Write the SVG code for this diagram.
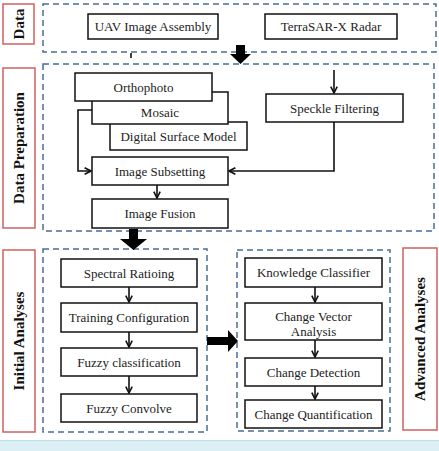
<svg xmlns="http://www.w3.org/2000/svg" width="439" height="451" viewBox="0 0 439 451">
<style>
.node{fill:#fff;stroke:#111;stroke-width:1.5}
.t{font-family:"Liberation Serif","Times New Roman",serif;font-size:13px;fill:#222;text-anchor:middle;dominant-baseline:central}
.side{fill:#fff;stroke:#d0605e;stroke-width:1.5}
.st{font-family:"Liberation Serif","Times New Roman",serif;font-size:15px;font-weight:bold;fill:#111;text-anchor:middle;dominant-baseline:central}
.grp{fill:none;stroke:#4a6d96;stroke-width:1.5;stroke-dasharray:6 4}
.c{fill:none;stroke:#111;stroke-width:1.6}
.big{fill:#000}
</style>
<defs>
<marker id="ah" viewBox="0 0 10 10" refX="9" refY="5" markerWidth="8" markerHeight="9" markerUnits="userSpaceOnUse" orient="auto">
<path d="M1,1 L9,5 L1,9" fill="none" stroke="#111" stroke-width="2"/>
</marker>
</defs>
<rect x="0" y="440" width="439" height="11" fill="#dbeff5"/>
<line x1="0" y1="440.5" x2="439" y2="440.5" stroke="#bfe1ea" stroke-width="1"/>

<g id="group-boxes">
<rect class="grp" x="43" y="4" width="393" height="48"/>
<rect class="grp" x="43" y="64" width="391" height="167"/>
<rect class="grp" x="43" y="249" width="164" height="183"/>
<rect class="grp" x="237" y="250" width="153" height="181"/>
</g>

<g id="label-data"><rect class="side" x="3" y="4" width="31" height="40"/><text class="st" transform="translate(19,24) rotate(-90)">Data</text></g>
<g id="label-prep"><rect class="side" x="3" y="68" width="32" height="160"/><text class="st" transform="translate(19,148) rotate(-90)">Data Preparation</text></g>
<g id="label-initial"><rect class="side" x="3" y="250" width="32" height="182"/><text class="st" transform="translate(19,341) rotate(-90)">Initial Analyses</text></g>
<g id="label-advanced"><rect class="side" x="403" y="248" width="34" height="182"/><text class="st" transform="translate(420,339) rotate(-90)">Advanced Analyses</text></g>

<g id="uav"><rect class="node" x="88" y="14" width="130" height="25"/><text class="t" x="153" y="26.5">UAV Image Assembly</text></g>
<g id="terrasar"><rect class="node" x="265" y="14" width="132" height="25"/><text class="t" x="331" y="26.5">TerraSAR-X Radar</text></g>

<g id="dsm"><rect class="node" x="110" y="122" width="137" height="28"/><text class="t" x="178.5" y="136">Digital Surface Model</text></g>
<g id="mosaic"><rect class="node" x="92" y="92" width="136" height="32"/><text class="t" x="160" y="112">Mosaic</text></g>
<g id="orthophoto"><rect class="node" x="75" y="73" width="137" height="28"/><text class="t" x="143.5" y="87">Orthophoto</text></g>
<g id="speckle"><rect class="node" x="266" y="94" width="137" height="28"/><text class="t" x="334.5" y="108">Speckle Filtering</text></g>
<g id="subsetting"><rect class="node" x="92" y="157" width="136" height="28"/><text class="t" x="160" y="171">Image Subsetting</text></g>
<g id="fusion"><rect class="node" x="92" y="199" width="136" height="29"/><text class="t" x="160" y="213.5">Image Fusion</text></g>

<g id="spectral"><rect class="node" x="61" y="259" width="136" height="28"/><text class="t" x="129" y="273">Spectral Ratioing</text></g>
<g id="training"><rect class="node" x="61" y="303" width="136" height="29"/><text class="t" x="129" y="317.5">Training Configuration</text></g>
<g id="fuzzyclass"><rect class="node" x="61" y="348" width="136" height="28"/><text class="t" x="129" y="362">Fuzzy classification</text></g>
<g id="fuzzyconv"><rect class="node" x="61" y="394" width="136" height="28"/><text class="t" x="129" y="408">Fuzzy Convolve</text></g>

<g id="knowledge"><rect class="node" x="245" y="258" width="137" height="29"/><text class="t" x="313.5" y="272.5">Knowledge Classifier</text></g>
<g id="cva"><rect class="node" x="245" y="303" width="137" height="37"/><text class="t" x="313.5" y="316">Change Vector</text><text class="t" x="313.5" y="331">Analysis</text></g>
<g id="detection"><rect class="node" x="245" y="358" width="137" height="28"/><text class="t" x="313.5" y="372">Change Detection</text></g>
<g id="quant"><rect class="node" x="245" y="400" width="137" height="28"/><text class="t" x="313.5" y="414">Change Quantification</text></g>

<g id="connectors">
<line class="c" x1="131" y1="53" x2="131" y2="58"/>
<path class="c" d="M334,70 V93" marker-end="url(#ah)"/>
<path class="c" d="M92,110 H78 V171 H91" marker-end="url(#ah)"/>
<path class="c" d="M334,122 V171 H229" marker-end="url(#ah)"/>
<path class="c" d="M157,185 V198" marker-end="url(#ah)"/>
<path class="c" d="M129,287 V302" marker-end="url(#ah)"/>
<path class="c" d="M129,332 V347" marker-end="url(#ah)"/>
<path class="c" d="M129,376 V393" marker-end="url(#ah)"/>
<path class="c" d="M315,287 V302" marker-end="url(#ah)"/>
<path class="c" d="M315,340 V357" marker-end="url(#ah)"/>
<path class="c" d="M315,386 V399" marker-end="url(#ah)"/>
<polygon class="big" points="236,45 245,45 245,54 251,54 240.5,64 230,54 236,54"/>
<polygon class="big" points="129,229 138,229 138,239 147,239 133.5,250 120,239 129,239"/>
<polygon class="big" points="207,337 228,337 228,330 238,341 228,352 228,345 207,345"/>
</g>
</svg>
